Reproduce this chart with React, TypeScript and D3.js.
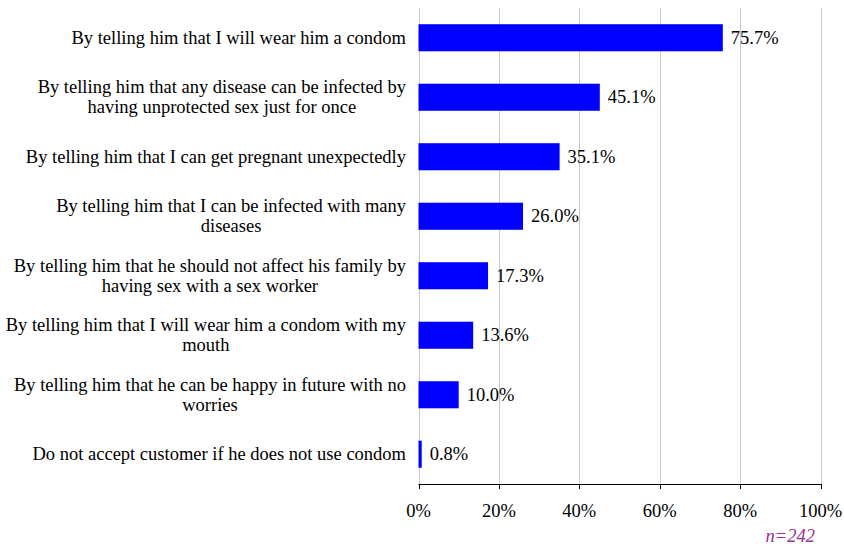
import React, { useEffect, useRef } from "react";
import * as d3 from "d3";

const categories: string[][] = [
  ["By telling him that I will wear him a condom"],
  ["By telling him that any disease can be infected by", "having unprotected sex just for once"],
  ["By telling him that I can get pregnant unexpectedly"],
  ["By telling him that I can be infected with many", "diseases"],
  ["By telling him that he should not affect his family by", "having sex with a sex worker"],
  ["By telling him that I will wear him a condom with my", "mouth"],
  ["By telling him that he can be happy in future with no", "worries"],
  ["Do not accept customer if he does not use condom"],
];
const values: number[] = [75.7, 45.1, 35.1, 26.0, 17.3, 13.6, 10.0, 0.8];
const xTicks: number[] = [0, 20, 40, 60, 80, 100];
const note = "n=242";

export default function App() {
  const ref = useRef<SVGSVGElement>(null);
  useEffect(() => {
    const svg = d3.select(ref.current);
    svg.selectAll("*").remove();
    const left = 418.5, right = 820.5, top = 8, bottom = 484;
    const font = "Liberation Serif";
    const fs = 18.5;
    const x = d3.scaleLinear().domain([0, 100]).range([left, right]);
    const y = d3.scaleBand<number>().domain(d3.range(categories.length)).range([top, bottom]).paddingInner(0.545).paddingOuter(0.2725);

    svg.append("g").selectAll("line").data(xTicks).join("line")
      .attr("x1", d => Math.round(x(d)) + 0.5).attr("x2", d => Math.round(x(d)) + 0.5)
      .attr("y1", top).attr("y2", bottom)
      .attr("stroke", "#c8c8c8").attr("stroke-width", 1);

    svg.append("g").selectAll("rect").data(values).join("rect")
      .attr("x", x(0)).attr("y", (_, i) => y(i)!)
      .attr("width", d => x(d) - x(0)).attr("height", y.bandwidth())
      .attr("fill", "#0000ff");

    svg.append("g").selectAll("text").data(values).join("text")
      .attr("x", d => x(d) + 8).attr("y", (_, i) => y(i)! + y.bandwidth() / 2)
      .attr("dy", "0.33em")
      .style("font-family", font).style("font-size", fs + "px").attr("fill", "#000")
      .text(d => d.toFixed(1) + "%");

    svg.append("line").attr("x1", left).attr("x2", right + 0.5).attr("y1", bottom + 0.5).attr("y2", bottom + 0.5)
      .attr("stroke", "#000").attr("stroke-width", 1);
    svg.append("g").selectAll("line").data(xTicks).join("line")
      .attr("x1", d => Math.round(x(d)) + 0.5).attr("x2", d => Math.round(x(d)) + 0.5)
      .attr("y1", bottom).attr("y2", bottom + 5)
      .attr("stroke", "#000");
    svg.append("g").selectAll("text").data(xTicks).join("text")
      .attr("x", d => x(d)).attr("y", 517)
      .attr("text-anchor", "middle")
      .style("font-family", font).style("font-size", fs + "px")
      .text(d => d + "%");

    const labelRight = 406;
    const lh = 20;
    categories.forEach((lines, i) => {
      const cy = y(i)! + y.bandwidth() / 2;
      const g = svg.append("g");
      const texts = lines.map((l, j) =>
        g.append("text")
          .style("font-family", font).style("font-size", fs + "px")
          .attr("y", cy + (j - (lines.length - 1) / 2) * lh)
          .attr("dy", "0.33em")
          .attr("text-anchor", "middle")
          .text(l)
      );
      const maxW = d3.max(texts, t => (t.node() as SVGTextElement).getComputedTextLength()) || 0;
      texts.forEach(t => t.attr("x", labelRight - maxW / 2));
    });

    svg.append("text").attr("x", 815).attr("y", 542).attr("text-anchor", "end")
      .style("font-family", font).style("font-size", fs + "px").style("font-style", "italic")
      .attr("fill", "#993399").text(note);
  }, []);
  return (
    <svg ref={ref} width={844} height={546} style={{ position: "absolute", left: 0, top: 0, background: "#fff" }} />
  );
}
